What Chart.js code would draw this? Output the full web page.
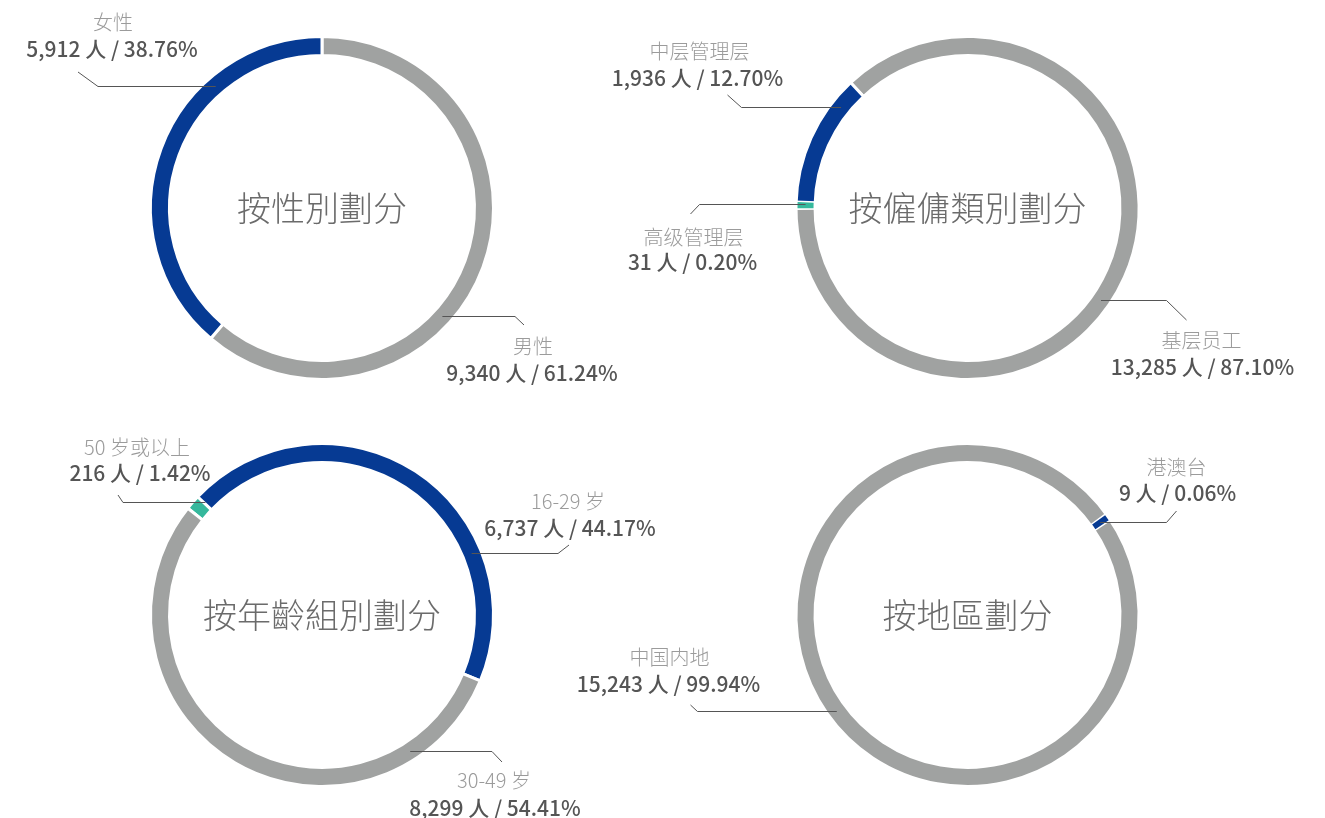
<!DOCTYPE html>
<html lang="zh">
<head>
<meta charset="utf-8">
<title>员工构成</title>
<script src="https://cdn.jsdelivr.net/npm/chart.js@4.4.1/dist/chart.umd.min.js"></script>
<style>
  html, body { margin: 0; padding: 0; background: #fff; overflow: hidden; }
  body { width: 1325px; height: 818px; position: relative; }
  canvas { position: absolute; }
</style>
</head>
<body>
<canvas id="genderChart" width="720" height="416" style="left:0;top:0"></canvas>
<canvas id="jobChart" width="766" height="416" style="left:559px;top:0"></canvas>
<canvas id="ageChart" width="720" height="406" style="left:0;top:412px"></canvas>
<canvas id="regionChart" width="766" height="406" style="left:559px;top:412px"></canvas>
<script>
// --- data ---
const genderTitle = '按性別劃分';
const genderLabels = ['男性', '女性'];
const genderCounts = [9340, 5912];
const genderPercents = [61.24, 38.76];

const jobTitle = '按僱傭類別劃分';
const jobLabels = ['基层员工', '高级管理层', '中层管理层'];
const jobCounts = [13285, 31, 1936];
const jobPercents = [87.10, 0.20, 12.70];

const ageTitle = '按年齡組別劃分';
const ageLabels = ['50 岁或以上', '16-29 岁', '30-49 岁'];
const ageCounts = [216, 6737, 8299];
const agePercents = [1.42, 44.17, 54.41];

const regionTitle = '按地區劃分';
const regionLabels = ['港澳台', '中国内地'];
const regionCounts = [9, 15243];
const regionPercents = [0.06, 99.94];

// --- styles ---
const BLUE = '#063a93';
const GRAY = '#a0a2a1';
const TEAL = '#35b89c';
const FONT = '"Noto Sans CJK SC", "Noto Sans", sans-serif';
const TITLE_FONT = '"Noto Sans CJK TC", "Noto Sans", sans-serif';

// callout placement, relative to the ring centre (angle in degrees clockwise from top)
const genderCallouts = [
    { angle: 132, elbow: 193, end: [202, 117], name: [211, 138], value: [210, 165] },
    { angle: -41, elbow: -224, end: [-244, -136], name: [-209, -186], value: [-210, -159] }
];
const jobCallouts = [
    { angle: 124.5, elbow: 199, end: [219, 112], name: [234, 132], value: [235, 159] },
    { angle: -88.6, elbow: -268, end: [-277, 6], name: [-274, 29], value: [-275, 54] },
    { angle: -51.3, elbow: -226, end: [-240, -113], name: [-268, -157], value: [-270, -130] }
];
const ageCallouts = [
    { angle: -46, elbow: -199, end: [-204, -120], name: [-185, -168], value: [-182, -142] },
    { angle: 67.5, elbow: 236, end: [247, -70], name: [246, -114], value: [248, -87] },
    { angle: 147, elbow: 170, end: [180, 147], name: [172, 165], value: [173, 193] }
];
const regionCallouts = [
    { angle: 55, elbow: 199, end: [209, -104], name: [209, -148], value: [210, -122] },
    { angle: -126.2, elbow: -270, end: [-277, 90], name: [-298, 42], value: [-299, 69] }
];

// keeps very thin slices visible, like the original artwork
const minArcPlugin = {
    id: 'minArc',
    afterDatasetsDraw(chart, args, opts) {
        const ctx = chart.ctx;
        const meta = chart.getDatasetMeta(0);
        meta.data.forEach(function(arc, i) {
            const p = arc.getProps(['x', 'y', 'startAngle', 'endAngle', 'innerRadius', 'outerRadius']);
            const midR = (p.innerRadius + p.outerRadius) / 2;
            if ((p.endAngle - p.startAngle) * midR >= opts.minPx) return;
            const mid = (p.startAngle + p.endAngle) / 2;
            const half = opts.minPx / 2 / midR;
            const gapHalf = half + opts.gap / midR;
            ctx.save();
            ctx.fillStyle = '#fff';
            ctx.beginPath();
            ctx.arc(p.x, p.y, p.outerRadius + 1, mid - gapHalf, mid + gapHalf);
            ctx.arc(p.x, p.y, p.innerRadius - 1, mid + gapHalf, mid - gapHalf, true);
            ctx.closePath();
            ctx.fill();
            ctx.fillStyle = chart.data.datasets[0].backgroundColor[i];
            ctx.beginPath();
            ctx.arc(p.x, p.y, p.outerRadius - 1.5, mid - half, mid + half);
            ctx.arc(p.x, p.y, p.innerRadius + 1.5, mid + half, mid - half, true);
            ctx.closePath();
            ctx.fill();
            ctx.restore();
        });
    }
};

// centre title + leader lines with labels
const calloutPlugin = {
    id: 'callouts',
    afterDraw(chart, args, opts) {
        const ctx = chart.ctx;
        const arc = chart.getDatasetMeta(0).data[0];
        const cx = arc.x, cy = arc.y;
        const rMid = (arc.innerRadius + arc.outerRadius) / 2;

        ctx.save();
        ctx.textAlign = 'center';
        ctx.textBaseline = 'middle';
        ctx.fillStyle = '#6b6b6b';
        ctx.font = '300 34px ' + TITLE_FONT;
        ctx.fillText(opts.title, cx, cy);

        opts.items.forEach(function(item, i) {
            const a = item.angle * Math.PI / 180;
            const ax = cx + rMid * Math.sin(a);
            const ay = Math.round(cy - rMid * Math.cos(a)) + 0.5;
            ctx.strokeStyle = '#555';
            ctx.lineWidth = 1;
            ctx.beginPath();
            ctx.moveTo(ax, ay);
            ctx.lineTo(cx + item.elbow, ay);
            ctx.lineTo(cx + item.end[0], cy + item.end[1]);
            ctx.stroke();

            ctx.fillStyle = '#9b9b9b';
            ctx.font = '300 20px ' + FONT;
            ctx.fillText(opts.labels[i], cx + item.name[0], cy + item.name[1]);

            const valueText = opts.counts[i].toLocaleString('en-US') + ' 人 / ' + opts.percents[i].toFixed(2) + '%';
            ctx.fillStyle = '#555';
            ctx.font = '500 21px ' + FONT;
            ctx.fillText(valueText, cx + item.value[0], cy + item.value[1]);
        });
        ctx.restore();
    }
};

function makeDonut(id, title, labels, counts, percents, colors, rotation, callouts, padding) {
    return new Chart(document.getElementById(id), {
        type: 'doughnut',
        data: {
            labels: labels,
            datasets: [{
                data: counts,
                backgroundColor: colors,
                borderColor: '#fff',
                borderWidth: 3
            }]
        },
        options: {
            responsive: false,
            animation: false,
            radius: 171.5,
            cutout: '88.9%',
            rotation: rotation,
            layout: { padding: padding },
            plugins: {
                legend: { display: false },
                tooltip: { enabled: false },
                minArc: { minPx: 6, gap: 1.5 },
                callouts: {
                    title: title,
                    labels: labels,
                    counts: counts,
                    percents: percents,
                    items: callouts
                }
            }
        },
        plugins: [minArcPlugin, calloutPlugin]
    });
}

makeDonut('genderChart', genderTitle, genderLabels, genderCounts, genderPercents,
    [GRAY, BLUE], 0, genderCallouts, { left: 0, right: 76, top: 0, bottom: 0 });
makeDonut('jobChart', jobTitle, jobLabels, jobCounts, jobPercents,
    [GRAY, TEAL, BLUE], -43, jobCallouts, { left: 51, right: 0, top: 0, bottom: 0 });
makeDonut('ageChart', ageTitle, ageLabels, ageCounts, agePercents,
    [TEAL, BLUE, GRAY], -51.5, ageCallouts, { left: 0, right: 76, top: 0, bottom: 0 });
makeDonut('regionChart', regionTitle, regionLabels, regionCounts, regionPercents,
    [BLUE, GRAY], 55, regionCallouts, { left: 51, right: 0, top: 0, bottom: 0 });
</script>
</body>
</html>
